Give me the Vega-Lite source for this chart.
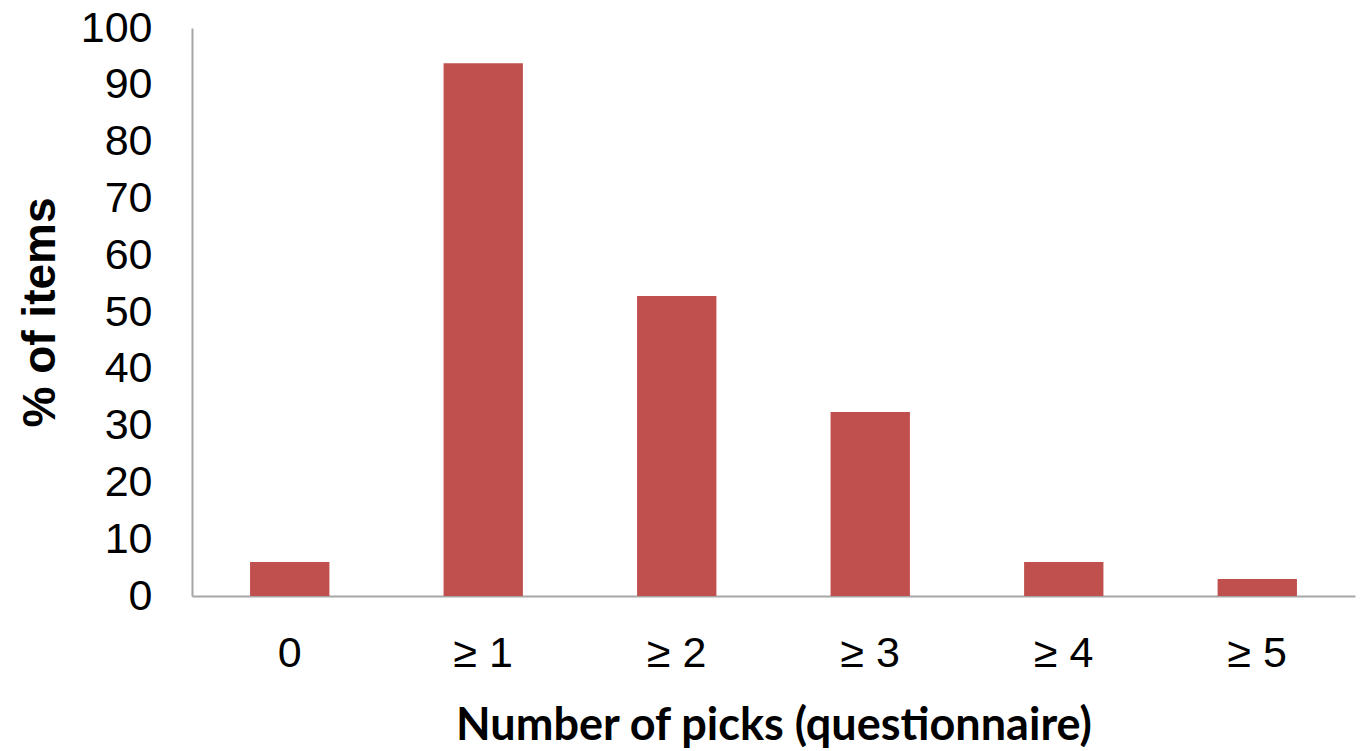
{
  "$schema": "https://vega.github.io/schema/vega-lite/v6.json",
  "width": 1163,
  "height": 568,
  "autosize": {"type": "none"},
  "padding": {"left": 192, "top": 28, "right": 8, "bottom": 155},
  "background": "white",
  "config": {"view": {"stroke": null}},
  "data": {"values": [
    {"picks": "0", "pct": 6},
    {"picks": "≥ 1", "pct": 93.8},
    {"picks": "≥ 2", "pct": 52.8},
    {"picks": "≥ 3", "pct": 32.4},
    {"picks": "≥ 4", "pct": 6},
    {"picks": "≥ 5", "pct": 3}
  ]},
  "mark": {"type": "bar", "color": "#C0504D"},
  "encoding": {
    "x": {
      "field": "picks", "type": "nominal", "sort": null,
      "scale": {"paddingInner": 0.59, "paddingOuter": 0.3},
      "axis": {
        "title": "Number of picks (questionnaire)",
        "titleFont": "Lato", "titleFontWeight": "bold", "titleFontSize": 45, "titleColor": "black",
        "titlePadding": 28,
        "labelAngle": 0, "labelFont": "Liberation Sans", "labelFontSize": 43, "labelColor": "black",
        "labelPadding": 36, "ticks": false,
        "domainColor": "#a6a6a6", "domainWidth": 2
      }
    },
    "y": {
      "field": "pct", "type": "quantitative",
      "scale": {"domain": [0, 100], "nice": false},
      "axis": {
        "title": "% of items",
        "titleFont": "Liberation Sans", "titleFontWeight": "bold", "titleFontSize": 46, "titleColor": "black",
        "titlePadding": 16,
        "values": [0, 10, 20, 30, 40, 50, 60, 70, 80, 90, 100],
        "labelFont": "Liberation Sans", "labelFontSize": 43, "labelColor": "black",
        "labelPadding": 40, "ticks": false, "grid": false,
        "domainColor": "#a6a6a6", "domainWidth": 2
      }
    }
  }
}
